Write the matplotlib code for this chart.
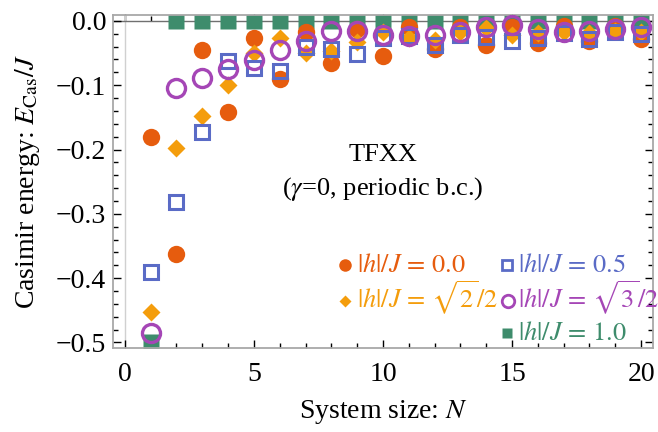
import numpy as np
import matplotlib
matplotlib.use('Agg')
import matplotlib.pyplot as plt
from matplotlib.ticker import MultipleLocator, FuncFormatter, NullFormatter
from matplotlib.lines import Line2D

plt.rcParams['font.family'] = ['Liberation Serif', 'DejaVu Serif']
plt.rcParams['mathtext.fontset'] = 'stix'

# System sizes
N = np.arange(1, 21)

# Casimir energy E_Cas/J for each field value
e_h00 = [-0.181, -0.363, -0.046, -0.142, -0.026, -0.091, -0.018, -0.066, -0.012, -0.054,
         -0.010, -0.044, -0.010, -0.037, -0.009, -0.034, -0.008, -0.032, -0.008, -0.028]
e_h05 = [-0.391, -0.282, -0.173, -0.063, -0.074, -0.078, -0.040, -0.043, -0.052, -0.027,
         -0.024, -0.037, -0.022, -0.025, -0.031, -0.027, -0.019, -0.028, -0.017, -0.020]
e_hr2 = [-0.452, -0.197, -0.148, -0.100, -0.050, -0.027, -0.050, -0.047, -0.033, -0.018,
         -0.027, -0.030, -0.018, -0.011, -0.022, -0.019, -0.017, -0.019, -0.015, -0.018]
e_hr3 = [-0.485, -0.105, -0.089, -0.075, -0.061, -0.046, -0.031, -0.016, -0.015, -0.022,
         -0.024, -0.022, -0.017, -0.010, -0.007, -0.013, -0.017, -0.015, -0.013, -0.009]
e_h10 = [-0.500, 0.0, 0.0, 0.0, 0.0, 0.0, 0.0, 0.0, 0.0, 0.0,
         0.0, 0.0, 0.0, 0.0, 0.0, 0.0, 0.0, 0.0, 0.0, 0.0]

labels = [r'$|h|/J\,=\,0.0$', r'$|h|/J\,=\,\sqrt{2}/2$', r'$|h|/J\,=\,0.5$',
          r'$|h|/J\,=\,\sqrt{3}/2$', r'$|h|/J\,=\,1.0$']

c_red = '#E65C0E'
c_ora = '#F49D0C'
c_blu = '#5A6BC6'
c_pur = '#A546B6'
c_grn = '#3E8C6C'

W, H = 658, 432
fig = plt.figure(figsize=(W / 100, H / 100), dpi=100)
ax = fig.add_axes([0.172, 0.194, 0.820, 0.771])

# axes lines of Mathematica style
ax.axvline(0, color='#d0d0d0', lw=1.0, zorder=1)
ax.axhline(0, color='#707070', lw=1.0, zorder=1)

ax.plot(N, e_h00, 'o', ms=12.5, color=c_red, mec='none', zorder=3)
ax.plot(N, e_hr2, 'D', ms=9, color=c_ora, mec='none', zorder=4)
ax.plot(N, e_h05, 's', ms=10, mfc='none', mec=c_blu, mew=2.2, zorder=5)
ax.plot(N, e_hr3, 'o', ms=13, mfc='none', mec=c_pur, mew=2.4, zorder=6)
ax.plot(N, e_h10, 's', ms=11, color=c_grn, mec='none', zorder=2)

ax.set_xlim(-0.45, 20.45)
ax.set_ylim(-0.509, 0.009)

ax.xaxis.set_major_locator(MultipleLocator(5))
ax.xaxis.set_minor_locator(MultipleLocator(1))
ax.yaxis.set_major_locator(MultipleLocator(0.1))
ax.yaxis.set_minor_locator(MultipleLocator(0.02))

def yfmt(v, pos):
    if abs(v) < 1e-9:
        v = 0.0
    return f'{v:.1f}'.replace('-', '\u2212')

ax.yaxis.set_major_formatter(FuncFormatter(yfmt))
ax.tick_params(which='both', direction='in', top=False, right=True, labelsize=20,
               color='black', width=1.0)
ax.tick_params(which='major', length=6)
ax.tick_params(which='minor', length=3.5)
ax.tick_params(axis='x', pad=10)
ax.tick_params(axis='y', pad=5)
for s in ax.spines.values():
    s.set_color('#a8a8a8')
    s.set_linewidth(1.3)

# tick marks along the y = 0 axis
sec = ax.secondary_xaxis(0.983)
sec.xaxis.set_major_locator(MultipleLocator(5))
sec.xaxis.set_minor_locator(MultipleLocator(1))
sec.xaxis.set_major_formatter(NullFormatter())
sec.tick_params(which='both', direction='out', color='black', width=1.0)
sec.tick_params(which='major', length=5)
sec.tick_params(which='minor', length=3.5)
sec.spines['top'].set_visible(False)

ax.set_xlabel(r'System size: $N$', fontsize=20, labelpad=8)
ax.set_ylabel(r'Casimir energy: $E_{\mathrm{Cas}}/J$', fontsize=20, labelpad=10)

ax.text(10, -0.208, 'TFXX', fontsize=19, ha='center', va='center')
ax.text(10, -0.261, r'($\gamma$=0, periodic b.c.)', fontsize=19, ha='center', va='center')

# hand-placed legend in two columns (pixel positions of marker / text / baseline)
leg_marker = [dict(marker='o', ms=9, color=c_red, mec='none'),
              dict(marker='D', ms=6.5, color=c_ora, mec='none'),
              dict(marker='s', ms=7.5, mfc='none', mec=c_blu, mew=2),
              dict(marker='o', ms=9, mfc='none', mec=c_pur, mew=2),
              dict(marker='s', ms=7.5, color=c_grn, mec='none')]
leg_color = [c_red, c_ora, c_blu, c_pur, c_grn]
leg_xm = [345, 345, 507, 508, 507]
leg_xt = [357, 357, 518, 518, 518]
leg_yb = [272, 308, 272, 308, 340]
for i in range(5):
    fig.add_artist(Line2D([leg_xm[i] / W], [1 - (leg_yb[i] - 7.5) / H], ls='none',
                          transform=fig.transFigure, **leg_marker[i]))
    fig.text(leg_xt[i] / W, 1 - leg_yb[i] / H, labels[i], fontsize=19,
             color=leg_color[i], ha='left', va='baseline')

fig.savefig('out.png', dpi=100)
